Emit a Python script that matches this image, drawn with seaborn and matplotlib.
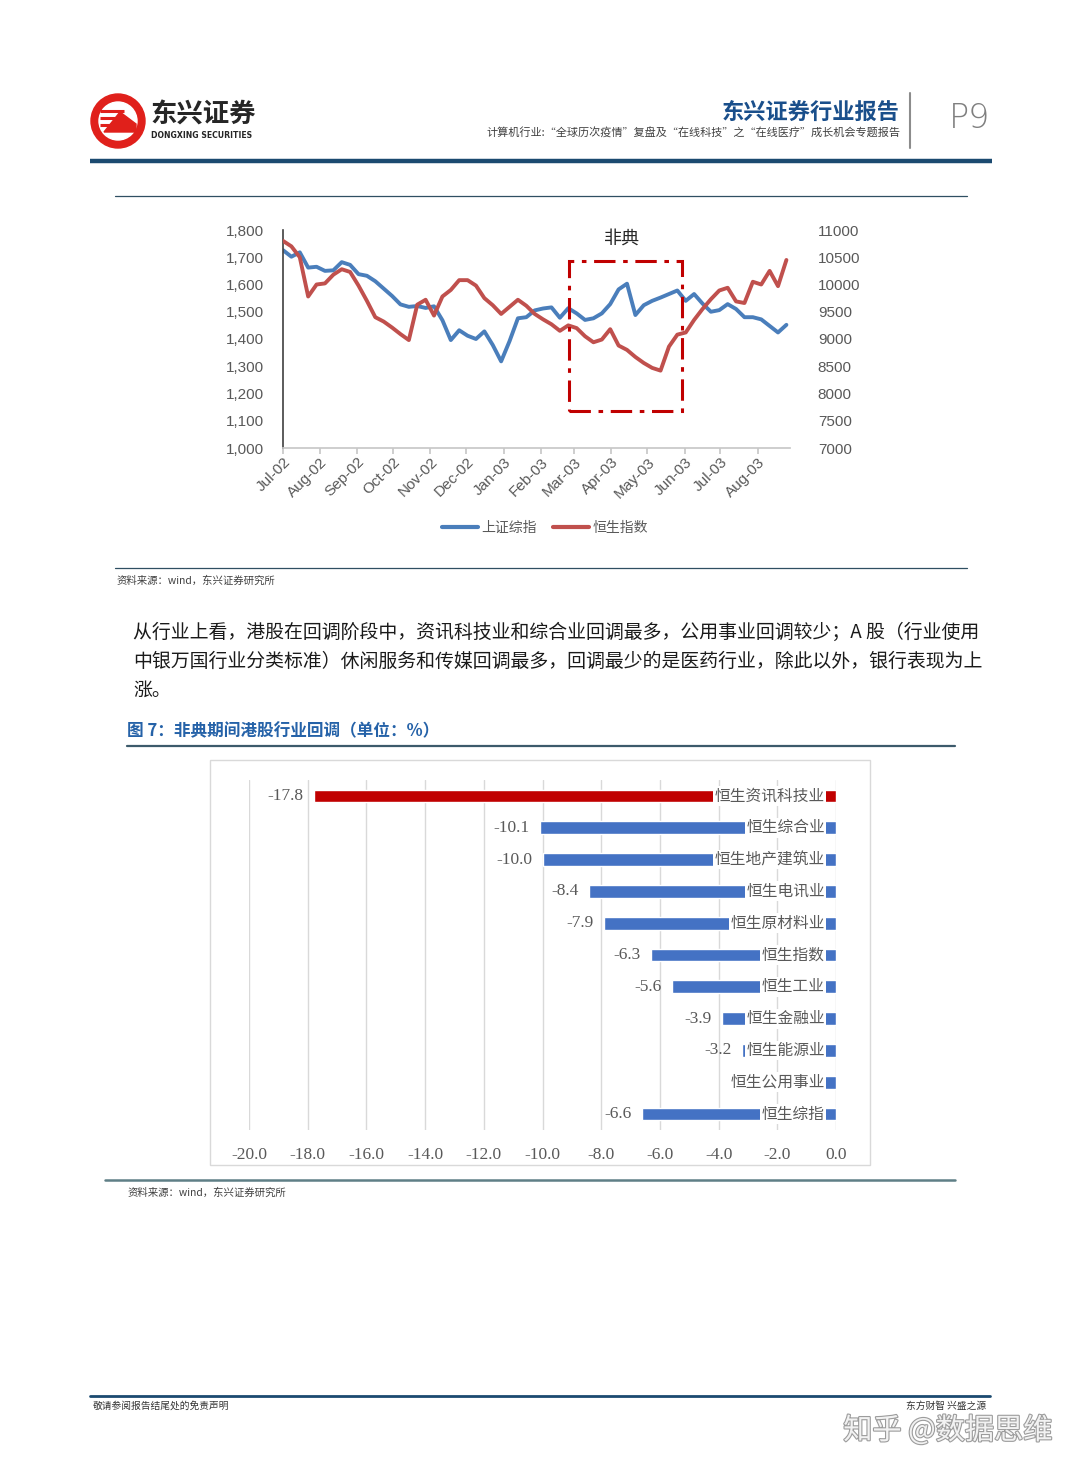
import numpy as np
import pandas as pd
import matplotlib
matplotlib.use("Agg")
import matplotlib.pyplot as plt
import matplotlib.dates as mdates
from matplotlib.patches import Rectangle, Circle, Polygon
from matplotlib.lines import Line2D
import matplotlib.patheffects as pe
import seaborn as sns

# ---- data: line chart (weekly closes, Jul-02 .. Aug-03) ----
sh_index = [1726, 1702, 1718, 1662, 1665, 1650, 1652, 1682, 1672, 1638,
            1632, 1612, 1585, 1558, 1527, 1518, 1521, 1514, 1520, 1469,
            1396, 1432, 1412, 1400, 1428, 1378, 1318, 1392, 1476, 1480,
            1505, 1512, 1516, 1478, 1513, 1494, 1470, 1476, 1494, 1528,
            1582, 1603, 1488, 1524, 1540, 1552, 1565, 1578, 1540, 1565,
            1530, 1500, 1506, 1528, 1510, 1480, 1480, 1472, 1448, 1424,
            1452]
hs_index = [10800, 10700, 10500, 9780, 10000, 10020, 10180, 10280, 10230, 9980,
            9700, 9400, 9320, 9210, 9090, 8980, 9630, 9720, 9430, 9780,
            9900, 10080, 10080, 9980, 9750, 9620, 9460, 9590, 9720, 9610,
            9460, 9360, 9270, 9150, 9250, 9200, 9050, 8940, 8990, 9180,
            8880, 8800, 8670, 8560, 8470, 8420, 8860, 9080, 9120, 9350,
            9550, 9730, 9890, 9940, 9690, 9660, 10050, 10000, 10250, 9970,
            10450]
line_names = ["上证综指", "恒生指数"]
first_week = "2002-07-01"
sars_window = ("2003-02-25", "2003-05-30")
sars_range = (1135, 1685)

# ---- data: bar chart ----
sectors = ["恒生资讯科技业", "恒生综合业", "恒生地产建筑业", "恒生电讯业", "恒生原材料业",
           "恒生指数", "恒生工业", "恒生金融业", "恒生能源业", "恒生公用事业", "恒生综指"]
pullback = [-17.8, -10.1, -10.0, -8.4, -7.9, -6.3, -5.6, -3.9, -3.2, -1.5, -6.6]
# the utilities label is hidden behind its category name in the original
value_labels = ["-17.8", "-10.1", "-10.0", "-8.4", "-7.9", "-6.3", "-5.6", "-3.9", "-3.2", "", "-6.6"]

paragraph = ["从行业上看，港股在回调阶段中，资讯科技业和综合业回调最多，公用事业回调较少；A 股（行业使用",
             "中银万国行业分类标准）休闲服务和传媒回调最多，回调最少的是医药行业，除此以外，银行表现为上",
             "涨。"]

BLUE = "#4A7EBB"
RED = "#C0504D"
NAVY = "#1B4A70"
GRAY = "#595959"

sns.set_theme(style="white")
plt.rcParams['font.family'] = ['Noto Sans CJK SC', 'DejaVu Sans']
plt.rcParams['axes.unicode_minus'] = False

W, H = 1080, 1465
fig = plt.figure(figsize=(W / 100, H / 100), dpi=100)


def box(x0, y0, x1, y1):
    # pixel box -> figure fraction rect
    return [x0 / W, 1 - y1 / H, (x1 - x0) / W, (y1 - y0) / H]


# page background axes in pixel coords
bg = fig.add_axes([0, 0, 1, 1])
bg.set_xlim(0, W)
bg.set_ylim(H, 0)
bg.axis("off")

# header: logo
bg.add_patch(Circle((118, 121), 27, color="#E0201B"))
bg.add_patch(Circle((118, 121), 19, color="white"))
for k, yy in enumerate([111, 118, 125]):
    bg.plot([100, 124 - k * 2], [yy, yy], color="#E0201B", lw=2.2, solid_capstyle="butt")
bg.add_patch(Polygon([[104, 132], [120, 112], [136, 124], [136, 132]], color="#E0201B"))
bg.text(150, 115, "东兴证券", fontsize=19, fontweight="bold", color="#262626", va="center")
bg.text(151, 136, "DONGXING SECURITIES", fontsize=5.6, fontweight="bold", color="#262626",
        va="center", family="DejaVu Sans")
bg.text(900, 112, "东兴证券行业报告", fontsize=16, fontweight="bold", color="#1A4F8B",
        ha="right", va="center")
bg.text(900, 133, "计算机行业:“全球历次疫情”复盘及“在线科技”之“在线医疗”成长机会专题报告",
        fontsize=8, color="#404040", ha="right", va="center")
bg.plot([910, 910], [93, 148], color="#8C8C8C", lw=1.5)
bg.text(970, 119, "P9", fontsize=24, color="#7F7F7F", ha="center", va="center",
        family="DejaVu Sans", fontweight="light")
bg.plot([90, 992], [161, 161], color=NAVY, lw=3.2, solid_capstyle="butt")

# rules around figure 6
bg.plot([115, 967], [196, 196], color="#2F4F62", lw=0.9)
bg.plot([115, 967], [568, 568], color="#2F4F62", lw=0.9)
bg.text(117, 581, "资料来源：wind，东兴证券研究所", fontsize=7.5, style="italic",
        color="#404040", va="center")

for i, line in enumerate(paragraph):
    bg.text(133, 632 + i * 29, line, fontsize=13.6, color="#1A1A1A", va="center")

bg.text(127, 731, "图 7：非典期间港股行业回调（单位：%）", fontsize=12, fontweight="bold",
        color="#2562A8", va="center")
bg.plot([127, 955], [746, 746], color="#3C5A6B", lw=1.6)
bg.add_patch(Rectangle((210, 760), 660, 405, fill=False, edgecolor="#D9D9D9", lw=1))
bg.plot([105, 955], [1180, 1180], color="#5F7F86", lw=1.8)
bg.text(128, 1193, "资料来源：wind，东兴证券研究所", fontsize=7.5, style="italic",
        color="#404040", va="center")

# footer
bg.plot([90, 990], [1396, 1396], color=NAVY, lw=2)
bg.text(93, 1406, "敬请参阅报告结尾处的免责声明", fontsize=7, color="#333333", va="center")
bg.text(986, 1406, "东方财智 兴盛之源", fontsize=7, color="#333333", va="center", ha="right")
bg.text(1052, 1431, "知乎 @数据思维", fontsize=21, color="#F2F2F2", ha="right", va="center",
        path_effects=[pe.withStroke(linewidth=1.6, foreground="#9C9C9C")])

# ---- line chart ----
dates = pd.date_range(first_week, periods=len(sh_index), freq="7D")
df = pd.DataFrame({"date": dates, line_names[0]: sh_index, line_names[1]: hs_index})

ax = fig.add_axes(box(283, 230, 790, 448))
ax.patch.set_alpha(0)
sns.lineplot(data=df, x="date", y=line_names[0], ax=ax, color=BLUE, lw=2.8, legend=False)
ax2 = ax.twinx()
sns.lineplot(data=df, x="date", y=line_names[1], ax=ax2, color=RED, lw=2.8, legend=False)

ax.set_xlim(pd.Timestamp(first_week), pd.Timestamp("2003-08-28"))
ax.set_ylim(1000, 1800)
ax.set_yticks(np.arange(1000, 1801, 100))
ax.yaxis.set_major_formatter(matplotlib.ticker.StrMethodFormatter("{x:,.0f}"))
ax2.set_ylim(7000, 11000)
ax2.set_yticks(np.arange(7000, 11001, 500))
ax.xaxis.set_major_locator(mdates.MonthLocator())
ax.xaxis.set_major_formatter(mdates.DateFormatter("%b-%y"))
for a in (ax, ax2):
    a.set_xlabel("")
    a.set_ylabel("")
    for s in a.spines.values():
        s.set_visible(False)
ax.spines["left"].set_visible(True)
ax.spines["left"].set_color("#404040")
ax.spines["left"].set_linewidth(1.2)
ax.spines["bottom"].set_visible(True)
ax.spines["bottom"].set_color("#C8C8C8")
ax.tick_params(axis="x", bottom=True, length=4, color="#C8C8C8", labelsize=11,
               labelcolor=GRAY, labelfontfamily="Liberation Sans", labelrotation=45, pad=1)
for lbl in ax.get_xticklabels():
    lbl.set_ha("right")
    lbl.set_rotation_mode("anchor")
ax.tick_params(axis="y", left=False, labelsize=11, labelcolor=GRAY,
               labelfontfamily="Liberation Sans", pad=8)
ax2.tick_params(axis="y", right=False, labelsize=11, labelcolor=GRAY,
                labelfontfamily="Liberation Sans", pad=14)

x0 = mdates.date2num(pd.Timestamp(sars_window[0]))
x1 = mdates.date2num(pd.Timestamp(sars_window[1]))
ax2.add_patch(Rectangle((x0, sars_range[0]), x1 - x0, sars_range[1] - sars_range[0],
                        transform=ax.transData, fill=False, edgecolor="#C00000", lw=2.2,
                        linestyle=(0, (7, 2.5, 1.5, 2.5)), zorder=5))
ax2.text((x0 + x1) / 2 - 3, 1768, "非典", transform=ax.transData, fontsize=13,
         color="#262626", ha="center", va="center")

handles = [Line2D([], [], color=BLUE, lw=3), Line2D([], [], color=RED, lw=3)]
fig.legend(handles, line_names, loc="center", bbox_to_anchor=(545 / W, 1 - 528 / H), ncol=2,
           frameon=False, fontsize=10, labelcolor=GRAY, handlelength=2.6,
           columnspacing=1.2, handletextpad=0.2)

# ---- bar chart ----
bar_df = pd.DataFrame({"sector": sectors, "pullback": pullback})
bar_colors = ["#C00000"] + ["#4472C4"] * (len(sectors) - 1)
axb = fig.add_axes(box(249, 780, 836, 1130))
sns.barplot(data=bar_df, x="pullback", y="sector", hue="sector", palette=bar_colors,
            orient="h", width=0.4, saturation=1, legend=False, ax=axb, zorder=2)
axb.set_xlim(-20, 0)
axb.set_xticks(np.arange(-20, 0.1, 2))
axb.xaxis.set_major_formatter(matplotlib.ticker.StrMethodFormatter("{x:.1f}"))
axb.grid(axis="x", color="#D9D9D9", lw=1)
axb.grid(axis="y", visible=False)
axb.set_axisbelow(True)
for s in axb.spines.values():
    s.set_visible(False)
axb.set_yticklabels([])
axb.set_xlabel("")
axb.set_ylabel("")
axb.tick_params(axis="y", left=False, length=0)
axb.tick_params(axis="x", bottom=False, labelsize=12.5, labelcolor=GRAY,
                labelfontfamily="Liberation Serif", pad=6)

for i, (name, val, lab) in enumerate(zip(sectors, pullback, value_labels)):
    if lab:
        axb.text(val - 0.35, i, lab, ha="right", va="center", fontsize=12.5,
                 color=GRAY, family="Liberation Serif", zorder=7)
    axb.text(-0.38, i, name, ha="right", va="center", fontsize=11.3, color=GRAY, zorder=6,
             bbox=dict(facecolor="white", edgecolor="none", pad=1.0))

fig.savefig("out.png", dpi=100)
